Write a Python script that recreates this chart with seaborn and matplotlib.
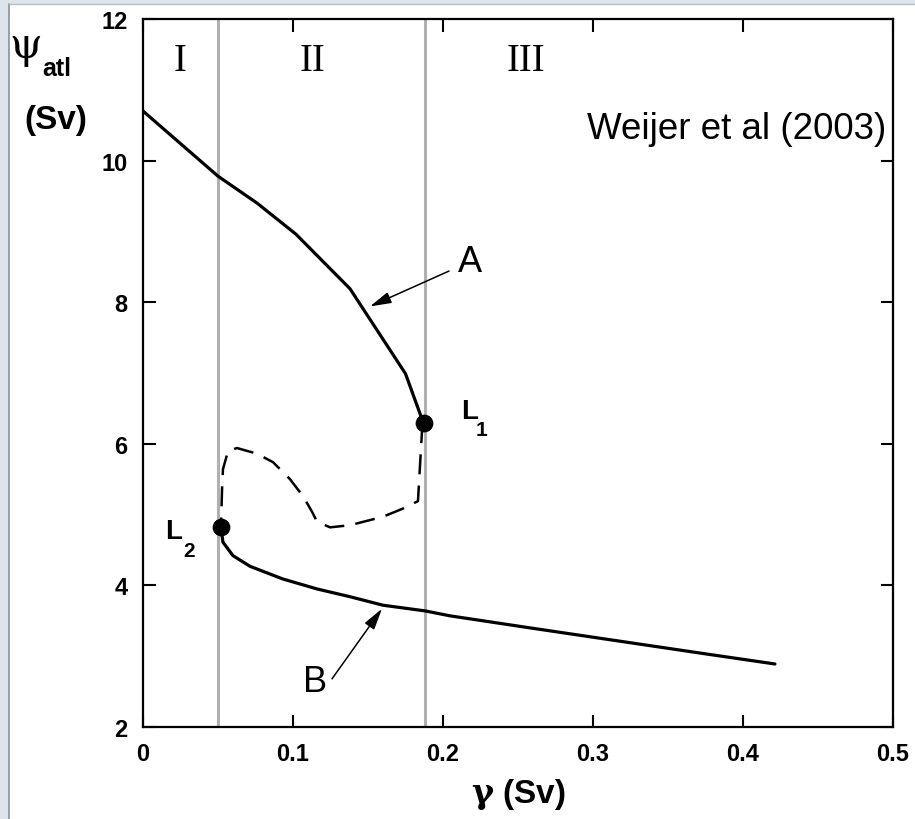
import matplotlib
matplotlib.use("Agg")
import matplotlib.pyplot as plt
from matplotlib.patches import Rectangle
from matplotlib.lines import Line2D
import seaborn as sns
import pandas as pd

# ---- data ----
branch_a_x = [0.0, 0.05, 0.076, 0.102, 0.138, 0.175, 0.187]
branch_a_y = [10.70, 9.78, 9.40, 8.96, 8.19, 6.99, 6.29]

unstable_x = [0.187, 0.186, 0.1833, 0.1727, 0.16, 0.138, 0.1247, 0.116, 0.1127,
              0.1067, 0.098, 0.0867, 0.076, 0.0627, 0.0567, 0.0533, 0.0527, 0.052]
unstable_y = [6.29, 6.18, 5.19, 5.08, 4.97, 4.85, 4.82, 4.90, 5.04,
              5.26, 5.50, 5.74, 5.86, 5.94, 5.90, 5.64, 5.36, 4.84]

branch_b_x = [0.052, 0.0533, 0.06, 0.0713, 0.0933, 0.116, 0.138, 0.16, 0.188,
              0.2047, 0.258, 0.309, 0.376, 0.4213]
branch_b_y = [4.81, 4.61, 4.42, 4.27, 4.09, 3.95, 3.84, 3.72, 3.64,
              3.57, 3.40, 3.24, 3.03, 2.89]

limit_names = ["L1", "L2"]
limit_x = [0.187, 0.052]
limit_y = [6.29, 4.82]

regime_bounds = [0.05, 0.188]
regime_labels = ["I", "II", "III"]
regime_label_x = [0.025, 0.113, 0.255]

x_ticks = [0, 0.1, 0.2, 0.3, 0.4, 0.5]
x_ticklabels = ["0", "0.1", "0.2", "0.3", "0.4", "0.5"]
y_ticks = [2, 4, 6, 8, 10, 12]
y_ticklabels = ["2", "4", "6", "8", "10", "12"]

df_a = pd.DataFrame({"gamma": branch_a_x, "psi": branch_a_y})
df_u = pd.DataFrame({"gamma": unstable_x, "psi": unstable_y})
df_b = pd.DataFrame({"gamma": branch_b_x, "psi": branch_b_y})
df_l = pd.DataFrame({"name": limit_names, "gamma": limit_x, "psi": limit_y})

sns.set_style("ticks")
plt.rcParams["font.family"] = ["Liberation Sans", "DejaVu Sans"]
plt.rcParams["mathtext.fontset"] = "dejavuserif"
for key in ["text.color", "axes.labelcolor", "xtick.color", "ytick.color", "axes.edgecolor"]:
    plt.rcParams[key] = "black"

W, H = 915, 820
fig = plt.figure(figsize=(W / 100, H / 100), dpi=100)
fig.patch.set_facecolor("#dde4ec")
bg = Rectangle((9 / W, 0), 1, 1 - 5 / H, transform=fig.transFigure,
               facecolor="white", edgecolor="none", zorder=-10)
fig.add_artist(bg)
fig.add_artist(Line2D([9 / W, 9 / W], [0, 1 - 5 / H], transform=fig.transFigure,
                      color="#8c9096", lw=1.2, zorder=-9))
fig.add_artist(Line2D([9 / W, 1], [1 - 5 / H, 1 - 5 / H], transform=fig.transFigure,
                      color="#b8bec6", lw=1.0, zorder=-9))

ax = fig.add_axes([143 / W, 1 - 728 / H, (893 - 143) / W, (728 - 20) / H])
ax.set_zorder(1)
ax.set_facecolor("none")

for xb in regime_bounds:
    ax.axvline(xb, color="#b0b0b0", lw=2.2, zorder=1)

sns.lineplot(data=df_a, x="gamma", y="psi", sort=False, estimator=None,
             color="black", lw=2.3, ax=ax, zorder=3)
sns.lineplot(data=df_u, x="gamma", y="psi", sort=False, estimator=None,
             color="black", lw=1.8, ax=ax, zorder=3)
ax.lines[-1].set_linestyle((0, (8, 4.5)))
sns.lineplot(data=df_b, x="gamma", y="psi", sort=False, estimator=None,
             color="black", lw=2.3, ax=ax, zorder=3)
sns.scatterplot(data=df_l, x="gamma", y="psi", color="black", s=140,
                edgecolor="black", ax=ax, zorder=4)

ax.set_xlim(0, 0.5)
ax.set_ylim(2, 12)
ax.set_xticks(x_ticks)
ax.set_xticklabels(x_ticklabels)
ax.set_yticks(y_ticks)
ax.set_yticklabels(y_ticklabels)
ax.tick_params(direction="in", length=9, width=1.5, top=True, right=True,
               labelsize=17, pad=11, colors="black")
for lab in ax.get_xticklabels() + ax.get_yticklabels():
    lab.set_fontweight("bold")
for sp in ax.spines.values():
    sp.set_visible(True)
    sp.set_linewidth(1.6)
    sp.set_color("black")

ax.set_xlabel(r"$\mathbf{\gamma}$ (Sv)", fontsize=24, fontweight="bold", labelpad=8)
ax.set_ylabel("")

# y-axis label as in the reference (top-left)
fig.text(26 / W, 1 - 46 / H, "ψ", fontsize=30, family=["DejaVu Serif"],
         ha="center", va="center")
fig.text(42 / W, 1 - 76 / H, "atl", fontsize=18, fontweight="bold",
         ha="left", va="baseline")
fig.text(56 / W, 1 - 121 / H, "(Sv)", fontsize=24, fontweight="bold",
         ha="center", va="center")

# regime labels
for lx, lt in zip(regime_label_x, regime_labels):
    ax.text(lx, 11.41, lt, fontsize=28, family=["Liberation Serif", "DejaVu Serif"],
            ha="center", va="center")

ax.text(0.4955, 10.45, "Weijer et al (2003)", fontsize=26.5, ha="right", va="center")

# limit point labels
ax.text(0.2175, 6.47, "L", fontsize=20, fontweight="bold", ha="center", va="center")
ax.text(0.2255, 6.20, "1", fontsize=15, fontweight="bold", ha="center", va="center")
ax.text(0.0205, 4.77, "L", fontsize=20, fontweight="bold", ha="center", va="center")
ax.text(0.0305, 4.49, "2", fontsize=15, fontweight="bold", ha="center", va="center")

# branch annotations
arrow = dict(arrowstyle="-|>,head_length=1.3,head_width=0.35", color="black",
             lw=1.1, shrinkA=0, shrinkB=0)
ax.annotate("", xy=(0.1513, 7.94), xytext=(0.204, 8.44), arrowprops=arrow)
ax.text(0.218, 8.57, "A", fontsize=26, ha="center", va="center")
ax.annotate("", xy=(0.1593, 3.67), xytext=(0.126, 2.68), arrowprops=arrow)
ax.text(0.1147, 2.64, "B", fontsize=26, ha="center", va="center")

fig.savefig("out.png", dpi=100, facecolor=fig.get_facecolor())
